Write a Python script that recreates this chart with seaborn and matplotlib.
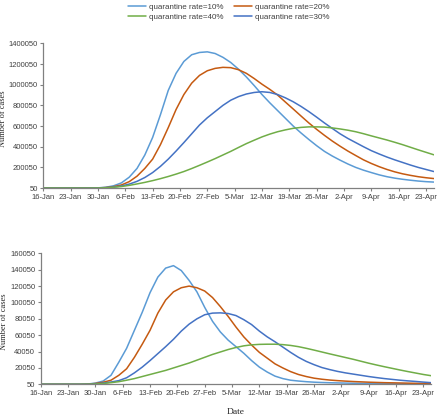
import numpy as np
import pandas as pd
import matplotlib
matplotlib.use("Agg")
import matplotlib.pyplot as plt
import seaborn as sns

# days after 16-Jan, one reading every 2 days
days = list(range(0, 101, 2))

# top panel (thousands of cases)
top_10 = [0, 0, 0, 0, 0, 0.2, 0.5, 2, 8, 22, 50, 105, 190, 320, 490, 710, 945, 1110, 1225, 1290,
          1312, 1318, 1302, 1265, 1215, 1150, 1075, 992, 905, 825, 750, 675, 600, 533, 470, 410,
          355, 310, 270, 233, 200, 173, 150, 128, 110, 96, 85, 76, 68, 62, 58]
top_20 = [0, 0, 0, 0, 0, 0.1, 0.3, 1.5, 5, 14, 30, 62, 115, 190, 280, 420, 585, 760, 905, 1015,
          1090, 1135, 1158, 1168, 1165, 1145, 1110, 1060, 1005, 955, 900, 832, 765, 697, 630, 568,
          510, 455, 405, 358, 315, 273, 238, 207, 180, 157, 138, 123, 110, 100, 92]
top_30 = [0, 0, 0, 0, 0, 0, 0.2, 1, 4, 10, 20, 38, 65, 102, 150, 210, 280, 358, 440, 525,
          610, 680, 740, 800, 850, 885, 910, 925, 932, 925, 905, 873, 835, 790, 740, 686,
          630, 577, 525, 480, 440, 400, 362, 330, 300, 273, 248, 223, 200, 180, 160]
top_40 = [0, 0, 0, 0, 0, 0, 0.1, 0.8, 3, 8, 15, 26, 40, 55, 72, 91, 112, 135, 160, 189,
          220, 252, 285, 320, 355, 393, 430, 463, 495, 522, 545, 563, 578, 587, 592, 592,
          590, 582, 572, 560, 545, 526, 505, 485, 465, 443, 420, 395, 370, 346, 322]

# bottom panel (thousands of cases)
bot_10 = [0, 0, 0, 0, 0, 0, 0.3, 1.5, 4, 11, 27, 44, 66, 88, 112, 131, 142, 145, 139, 127,
          113, 94, 77, 64, 54, 46, 38, 29, 21, 15, 10, 7, 5, 4, 3.2, 2.6,
          2.2, 1.9, 1.7, 1.5, 1.3, 1.2, 1.1, 1.0, 0.9, 0.85, 0.8, 0.75, 0.7, 0.65, 0.6]
bot_20 = [0, 0, 0, 0, 0, 0, 0.2, 1, 2.5, 5, 11, 19, 33, 49, 66, 87, 103, 113, 118, 120,
          118, 114, 106, 95, 83, 70, 58, 48, 39, 32, 25, 20, 15.5, 12, 9.5, 7.5,
          6.2, 5.2, 4.5, 3.9, 3.4, 3.0, 2.6, 2.3, 2.0, 1.8, 1.6, 1.4, 1.2, 1.1, 1.0]
bot_30 = [0, 0, 0, 0, 0, 0, 0.1, 0.5, 1.5, 2.8, 4.5, 8, 14, 21, 29, 37.5, 46, 55, 65, 73.5,
          80, 85, 87, 87.3, 86.5, 84, 79, 73, 65, 58, 52, 45.5, 39, 33, 28, 24,
          20.5, 18, 15.8, 14, 12.5, 11, 9.5, 8.2, 7, 6, 5, 4.2, 3.5, 2.7, 2.0]
bot_40 = [0, 0, 0, 0, 0, 0, 0.1, 0.4, 1, 2, 3.2, 5, 7, 9.5, 12, 14.5, 17, 20, 23, 26,
          29.5, 33, 36.5, 39.5, 42.5, 45, 47, 48.2, 48.8, 49, 49, 48.5, 47.5, 46, 44, 41.8,
          39.5, 37.2, 35, 32.8, 30.6, 28.2, 25.8, 23.6, 21.5, 19.5, 17.5, 15.6, 13.8, 12, 10.5]

labels = ["quarantine rate=10%", "quarantine rate=20%", "quarantine rate=30%", "quarantine rate=40%"]
colors = ["#5B9BD5", "#C55A11", "#4472C4", "#70AD47"]

tick_days = list(range(0, 99, 7))
tick_labels = ["16-Jan", "23-Jan", "30-Jan", "6-Feb", "13-Feb", "20-Feb", "27-Feb",
               "5-Mar", "12-Mar", "19-Mar", "26-Mar", "2-Apr", "9-Apr", "16-Apr", "23-Apr"]

top_ticks = [50, 200050, 400050, 600050, 800050, 1000050, 1200050, 1400050]
bot_ticks = [50, 20050, 40050, 60050, 80050, 100050, 120050, 140050, 160050]


def make_frame(series):
    rows = []
    for lab, vals in zip(labels, series):
        assert len(vals) == len(days), (lab, len(vals))
        for d, v in zip(days, vals):
            rows.append({"day": d, "cases": 50 + v * 1000, "rate": lab})
    return pd.DataFrame(rows)


df_top = make_frame([top_10, top_20, top_30, top_40])
df_bot = make_frame([bot_10, bot_20, bot_30, bot_40])

sns.set_style("white")
plt.rcParams["font.family"] = ["Liberation Sans", "DejaVu Sans"]

fig = plt.figure(figsize=(4.4, 4.17), dpi=100)
ax1 = fig.add_axes([0.0984, 0.549, 0.8875, 0.347])
ax2 = fig.add_axes([0.0925, 0.0784, 0.8875, 0.314])

palette = dict(zip(labels, colors))
sns.lineplot(data=df_top, x="day", y="cases", hue="rate", palette=palette,
             linewidth=1.1, ax=ax1)
sns.lineplot(data=df_bot, x="day", y="cases", hue="rate", palette=palette,
             linewidth=1.1, ax=ax2, legend=False)

handles, labs = ax1.get_legend_handles_labels()
ax1.get_legend().remove()
order = [0, 3, 1, 2]
fig.legend([handles[i] for i in order], [labs[i] for i in order],
           loc="upper center", bbox_to_anchor=(0.52, 1.01), ncol=2, frameon=False,
           fontsize=5.8, handlelength=2.3, handletextpad=0.4, columnspacing=1.2,
           labelspacing=0.35, labelcolor="#404040")

for ax, ticks, lim, lx in [(ax1, top_ticks, 1400050, -0.094), (ax2, bot_ticks, 160050, -0.084)]:
    ax.set_xlim(0, 100)
    ax.set_ylim(50, lim)
    ax.set_yticks(ticks)
    ax.set_yticklabels([str(t) for t in ticks])
    ax.set_xticks(tick_days)
    ax.set_xticklabels(tick_labels)
    for s in ["top", "right"]:
        ax.spines[s].set_visible(False)
    for s in ["left", "bottom"]:
        ax.spines[s].set_color("#808080")
        ax.spines[s].set_linewidth(0.9)
    ax.tick_params(axis="both", which="major", length=2.5, width=0.8, color="#808080",
                   labelsize=5.5, labelcolor="#404040", pad=1.5, direction="out",
                   bottom=True, left=True)
    ax.set_xlabel("")
    ax.set_ylabel("Number of cases", family=["Liberation Serif"], fontsize=6)
    ax.yaxis.set_label_coords(lx, 0.48)

ax2.set_xlabel("Date", family=["Liberation Serif"], fontsize=6.8, labelpad=8)

fig.savefig("out.png", dpi=100)
